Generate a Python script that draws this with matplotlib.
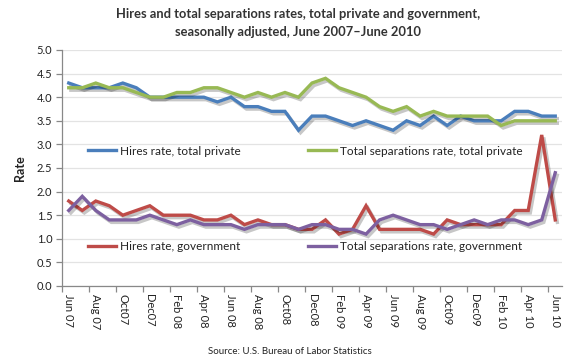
import matplotlib
matplotlib.use("Agg")
import matplotlib.pyplot as plt
import matplotlib.patheffects as pe
import numpy as np

plt.rcParams['font.family'] = ['Lato', 'DejaVu Sans']

months = ["Jun 07", "Jul 07", "Aug 07", "Sep 07", "Oct 07", "Nov 07", "Dec 07",
          "Jan 08", "Feb 08", "Mar 08", "Apr 08", "May 08", "Jun 08", "Jul 08",
          "Aug 08", "Sep 08", "Oct 08", "Nov 08", "Dec 08", "Jan 09", "Feb 09",
          "Mar 09", "Apr 09", "May 09", "Jun 09", "Jul 09", "Aug 09", "Sep 09",
          "Oct 09", "Nov 09", "Dec 09", "Jan 10", "Feb 10", "Mar 10", "Apr 10",
          "May 10", "Jun 10"]
tick_labels = ["Jun 07", "Aug 07", "Oct07", "Dec07", "Feb 08", "Apr 08", "Jun 08",
               "Aug 08", "Oct08", "Dec08", "Feb 09", "Apr 09", "Jun 09", "Aug 09",
               "Oct09", "Dec09", "Feb 10", "Apr 10", "Jun 10"]

hires_private = [4.3, 4.2, 4.2, 4.2, 4.3, 4.2, 4.0, 4.0, 4.0, 4.0, 4.0, 3.9, 4.0,
                 3.8, 3.8, 3.7, 3.7, 3.3, 3.6, 3.6, 3.5, 3.4, 3.5, 3.4, 3.3, 3.5,
                 3.4, 3.6, 3.4, 3.6, 3.5, 3.5, 3.5, 3.7, 3.7, 3.6, 3.6]
seps_private = [4.2, 4.2, 4.3, 4.2, 4.2, 4.1, 4.0, 4.0, 4.1, 4.1, 4.2, 4.2, 4.1,
                4.0, 4.1, 4.0, 4.1, 4.0, 4.3, 4.4, 4.2, 4.1, 4.0, 3.8, 3.7, 3.8,
                3.6, 3.7, 3.6, 3.6, 3.6, 3.6, 3.4, 3.5, 3.5, 3.5, 3.5]
hires_gov = [1.8, 1.6, 1.8, 1.7, 1.5, 1.6, 1.7, 1.5, 1.5, 1.5, 1.4, 1.4, 1.5,
             1.3, 1.4, 1.3, 1.3, 1.2, 1.2, 1.4, 1.1, 1.2, 1.7, 1.2, 1.2, 1.2,
             1.2, 1.1, 1.4, 1.3, 1.3, 1.3, 1.3, 1.6, 1.6, 3.2, 1.4]
seps_gov = [1.6, 1.9, 1.6, 1.4, 1.4, 1.4, 1.5, 1.4, 1.3, 1.4, 1.3, 1.3, 1.3,
            1.2, 1.3, 1.3, 1.3, 1.2, 1.3, 1.3, 1.2, 1.2, 1.1, 1.4, 1.5, 1.4,
            1.3, 1.3, 1.2, 1.3, 1.4, 1.3, 1.4, 1.4, 1.3, 1.4, 2.4]

series = [
    ("Hires rate, total private", hires_private, "#4A7EBB"),
    ("Total separations rate, total private", seps_private, "#98B954"),
    ("Hires rate, government", hires_gov, "#BE4B48"),
    ("Total separations rate, government", seps_gov, "#7D60A0"),
]

W, H = 580, 360
fig = plt.figure(figsize=(W / 100, H / 100), dpi=100)
ax = fig.add_axes([62 / W, 1 - 286 / H, (562 - 62) / W, (286 - 50) / H])

x = np.arange(len(months))
shadow = [pe.SimpleLineShadow(offset=(1.5, -1.8), shadow_color='black', alpha=0.22),
          pe.Normal()]
lines = []
for name, vals, col in series:
    ln, = ax.plot(x, vals, color=col, lw=2.4, label=name, path_effects=shadow,
                  solid_joinstyle='miter', zorder=3)
    lines.append(ln)

ax.set_xlim(-0.5, len(months) - 0.5)
ax.set_ylim(0, 5.0)
ax.set_yticks(np.arange(0, 5.01, 0.5))
ax.set_yticklabels([f"{v:.1f}" for v in np.arange(0, 5.01, 0.5)])
ax.grid(axis='y', color='#E3E3E3', lw=0.9, zorder=0)
ax.set_axisbelow(True)

ax.set_xticks(x[::2])
ax.set_xticklabels(tick_labels, rotation=270, va='top', ha='center')
ax.set_xticks(np.arange(-0.5, len(months), 2), minor=True)
ax.tick_params(axis='x', which='major', length=0, pad=6, labelsize=8, colors='#222222')
ax.tick_params(axis='x', which='minor', length=4, color='#888888', width=0.9)
ax.tick_params(axis='y', length=4, color='#888888', width=0.9, labelsize=8,
               colors='#222222', pad=3)

for s in ['top', 'right']:
    ax.spines[s].set_visible(False)
for s in ['left', 'bottom']:
    ax.spines[s].set_color('#888888')
    ax.spines[s].set_linewidth(0.9)

ax.set_ylabel("Rate", fontsize=9, fontweight='bold', labelpad=8, color='#222222')

fig.text(298 / W, 1 - 23 / H,
         "Hires and total separations rates, total private and government,\n"
         "seasonally adjusted, June 2007\u2013June 2010",
         ha='center', va='center', fontsize=9.3, fontweight='bold',
         color='#333333', linespacing=1.6)

fig.text(290 / W, 1 - 352 / H, "Source: U.S. Bureau of Labor Statistics",
         ha='center', va='center', fontsize=7, color='#222222')

# legends placed individually
positions = [(88, 151), (308, 151), (88, 247), (308, 247)]
for ln, (px, py) in zip(lines, positions):
    leg = fig.legend(handles=[ln], labels=[ln.get_label()], loc='center left',
                     bbox_to_anchor=(px / W, 1 - py / H), frameon=False,
                     borderpad=0, borderaxespad=0, handlelength=2.4,
                     handletextpad=0.3, fontsize=8.5)
    for t in leg.get_texts():
        t.set_color('#222222')
    for h in leg.legend_handles:
        h.set_path_effects([])

fig.savefig("out.png", dpi=100, facecolor='white')
